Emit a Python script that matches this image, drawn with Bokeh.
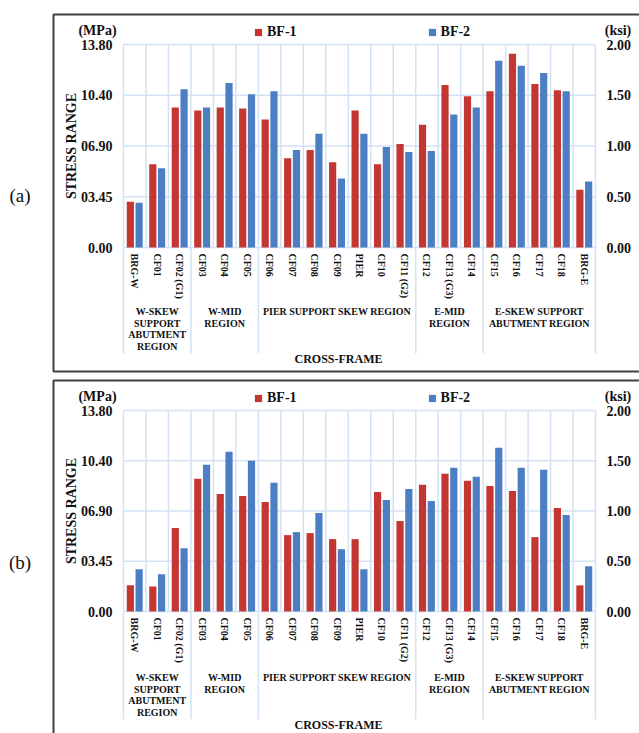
import math
from bokeh.plotting import figure
from bokeh.layouts import column
from bokeh.models import (ColumnDataSource, FixedTicker, LinearAxis, Label,
                          BoxAnnotation, Legend, LegendItem, Range1d)
from bokeh.transform import dodge
from bokeh.embed import file_html
from bokeh.resources import INLINE

# ---------------- data ----------------
cross_frames = ["BRG-W", "CF01", "CF02 (G1)", "CF03", "CF04", "CF05", "CF06", "CF07",
                "CF08", "CF09", "PIER", "CF10", "CF11 (G2)", "CF12", "CF13 (G3)", "CF14",
                "CF15", "CF16", "CF17", "CF18", "BRG-E"]

region_lines = [["W-SKEW", "SUPPORT", "ABUTMENT", "REGION"],
                ["W-MID", "REGION"],
                ["PIER SUPPORT SKEW REGION"],
                ["E-MID", "REGION"],
                ["E-SKEW SUPPORT", "ABUTMENT REGION"]]
region_sizes = [3, 3, 7, 3, 5]

# stress range in ksi
a_bf1 = [0.45, 0.82, 1.38, 1.35, 1.38, 1.37, 1.26, 0.88, 0.96, 0.84, 1.35,
         0.82, 1.02, 1.21, 1.60, 1.49, 1.54, 1.91, 1.61, 1.55, 0.57]
a_bf2 = [0.44, 0.78, 1.56, 1.38, 1.62, 1.51, 1.54, 0.96, 1.12, 0.68, 1.12,
         0.99, 0.94, 0.95, 1.31, 1.38, 1.84, 1.79, 1.72, 1.54, 0.65]
b_bf1 = [0.26, 0.25, 0.83, 1.32, 1.17, 1.15, 1.09, 0.76, 0.78, 0.72, 0.72,
         1.19, 0.90, 1.26, 1.37, 1.30, 1.25, 1.20, 0.74, 1.03, 0.26]
b_bf2 = [0.42, 0.37, 0.63, 1.46, 1.59, 1.50, 1.28, 0.79, 0.98, 0.62, 0.42,
         1.11, 1.22, 1.10, 1.43, 1.34, 1.63, 1.43, 1.41, 0.96, 0.45]

ksi_ticks = [0.0, 0.5, 1.0, 1.5, 2.0]
mpa_labels = ["0.00", "03.45", "06.90", "10.40", "13.80"]
ksi_labels = ["0.00", "0.50", "1.00", "1.50", "2.00"]
series_names = ["BF-1", "BF-2"]

# ---------------- style ----------------
FONT = "Liberation Serif"
RED = "#c43632"
BLUE = "#4c7ec3"
GRID = "#d3e2f4"
INK = "#111111"
BOXC = "#404040"
W = 639
FL, FR = 123, 595  # page x of the plot-area edges
Y_MAX = ksi_ticks[-1]
NAN = float("nan")


def make_panel(tag, bf1, bf2, H, off, FT, FB, box_top, box_bottom,
               sep_end, cf_y, reg_y, tag_y, unit_y, leg_y):
    n = len(cross_frames)
    x_lo, x_hi = -0.5, n - 0.5

    def dx(px):
        return x_lo + (px - FL) * n / (FR - FL)

    def dy(py):
        return (FB - py) * Y_MAX / (FB - FT)

    p = figure(width=W, height=H, output_backend="svg", toolbar_location=None,
               x_range=Range1d(dx(0), dx(W)), y_range=Range1d(dy(off + H), dy(off)),
               x_axis_location=None, y_axis_location=None,
               min_border_left=0, min_border_right=0,
               min_border_top=0, min_border_bottom=0)
    p.background_fill_color = "white"
    p.border_fill_color = "white"
    p.outline_line_color = None
    p.xgrid.visible = False
    p.ygrid.visible = False

    # plot-area grid (bounded to the plot area) and region separators
    bounds = [0]
    for s in region_sizes:
        bounds.append(bounds[-1] + s)
    p.segment(x0=[x_lo] * len(ksi_ticks), x1=[x_hi] * len(ksi_ticks),
              y0=ksi_ticks, y1=ksi_ticks, line_color=GRID, line_width=1.5)
    vx = [i - 0.5 for i in range(n + 1)]
    p.segment(x0=vx, x1=vx, y0=[0] * len(vx), y1=[Y_MAX] * len(vx),
              line_color=GRID, line_width=1.5)
    sx = [b - 0.5 for b in bounds]
    p.segment(x0=sx, x1=sx, y0=[dy(sep_end)] * len(sx), y1=[0] * len(sx),
              line_color=GRID, line_width=1.5)

    src = ColumnDataSource(dict(x=list(range(n)), bf1=bf1, bf2=bf2))
    p.vbar(x=dodge("x", -0.195, range=p.x_range), top="bf1", width=0.32,
           source=src, fill_color=RED, line_color=None)
    p.vbar(x=dodge("x", 0.195, range=p.x_range), top="bf2", width=0.32,
           source=src, fill_color=BLUE, line_color=None)

    def style_axis(ax, size):
        ax.axis_line_color = None
        ax.major_tick_line_color = None
        ax.minor_tick_line_color = None
        ax.major_tick_out = 0
        ax.major_tick_in = 0
        ax.minor_tick_out = 0
        ax.minor_tick_in = 0
        ax.major_label_text_font = FONT
        ax.major_label_text_font_style = "bold"
        ax.major_label_text_font_size = size
        ax.major_label_text_color = INK

    xa = LinearAxis(fixed_location=0, bounds=(x_lo, x_hi),
                    ticker=FixedTicker(ticks=list(range(n))),
                    major_label_overrides={i: c for i, c in enumerate(cross_frames)},
                    major_label_orientation=-math.pi / 2)
    style_axis(xa, "10px")
    xa.major_label_standoff = 6
    p.add_layout(xa, "below")

    ya = LinearAxis(fixed_location=x_lo, bounds=(0, Y_MAX),
                    ticker=FixedTicker(ticks=ksi_ticks),
                    major_label_overrides=dict(zip(ksi_ticks, mpa_labels)))
    style_axis(ya, "14px")
    ya.major_label_standoff = 11
    ya.axis_label = "STRESS RANGE"
    ya.axis_label_text_font = FONT
    ya.axis_label_text_font_style = "bold"
    ya.axis_label_text_font_size = "14px"
    ya.axis_label_text_color = INK
    ya.axis_label_standoff = -1
    p.add_layout(ya, "left")

    ra = LinearAxis(fixed_location=x_hi, bounds=(0, Y_MAX),
                    ticker=FixedTicker(ticks=ksi_ticks),
                    major_label_overrides=dict(zip(ksi_ticks, ksi_labels)))
    style_axis(ra, "14px")
    ra.major_label_standoff = 11
    p.add_layout(ra, "right")

    # region labels
    for k, lines in enumerate(region_lines):
        cx = (bounds[k] + bounds[k + 1]) / 2 - 0.5
        for j, t in enumerate(lines):
            p.add_layout(Label(x=cx, y=dy(reg_y + j * 11.7), text=t,
                               text_align="center", text_baseline="middle",
                               text_font=FONT, text_font_style="bold",
                               text_font_size="10px", text_color=INK))

    def lab(px, py, t, size, style="bold"):
        p.add_layout(Label(x=dx(px), y=dy(py), text=t, text_align="center",
                           text_baseline="middle", text_font=FONT,
                           text_font_style=style, text_font_size=size,
                           text_color=INK))

    lab(338, cf_y, "CROSS-FRAME", "12px")
    lab(97, unit_y, "(MPa)", "14px")
    lab(617.5, unit_y, "(ksi)", "14px")
    lab(19.5, tag_y, tag, "19px", "normal")

    p.add_layout(BoxAnnotation(left=dx(53), right=dx(720), top=dy(box_top),
                               bottom=dy(box_bottom), fill_color=None, fill_alpha=0,
                               line_color=BOXC, line_alpha=1.0, line_width=2))

    # legend (square marker proxies, nothing drawn in the plot)
    s1 = p.scatter([NAN], [NAN], marker="square", size=7, fill_color=RED, line_color=None)
    s2 = p.scatter([NAN], [NAN], marker="square", size=7, fill_color=BLUE, line_color=None)
    legend = Legend(items=[LegendItem(label=series_names[0], renderers=[s1]),
                           LegendItem(label=series_names[1], renderers=[s2])],
                    location=(249, off + H - leg_y - 9), orientation="horizontal",
                    glyph_width=18, glyph_height=18, label_height=18,
                    label_standoff=-3, spacing=126, padding=0, margin=0,
                    border_line_color=None, background_fill_alpha=0,
                    label_text_font=FONT, label_text_font_size="14px",
                    label_text_font_style="bold", label_text_color=INK)
    p.add_layout(legend)
    return p


pa = make_panel("(a)", a_bf1, a_bf2, H=376, off=0, FT=44, FB=247,
                box_top=14, box_bottom=371, sep_end=352.7, cf_y=358.3,
                reg_y=311, tag_y=195, unit_y=29.5, leg_y=32.3)
pb = make_panel("(b)", b_bf1, b_bf2, H=357, off=376, FT=410, FB=611,
                box_top=380, box_bottom=900, sep_end=718.7, cf_y=724,
                reg_y=677, tag_y=561.5, unit_y=395.5, leg_y=398.3)

layout = column(pa, pb, spacing=0)
open("out.html", "w").write(file_html(layout, INLINE))
